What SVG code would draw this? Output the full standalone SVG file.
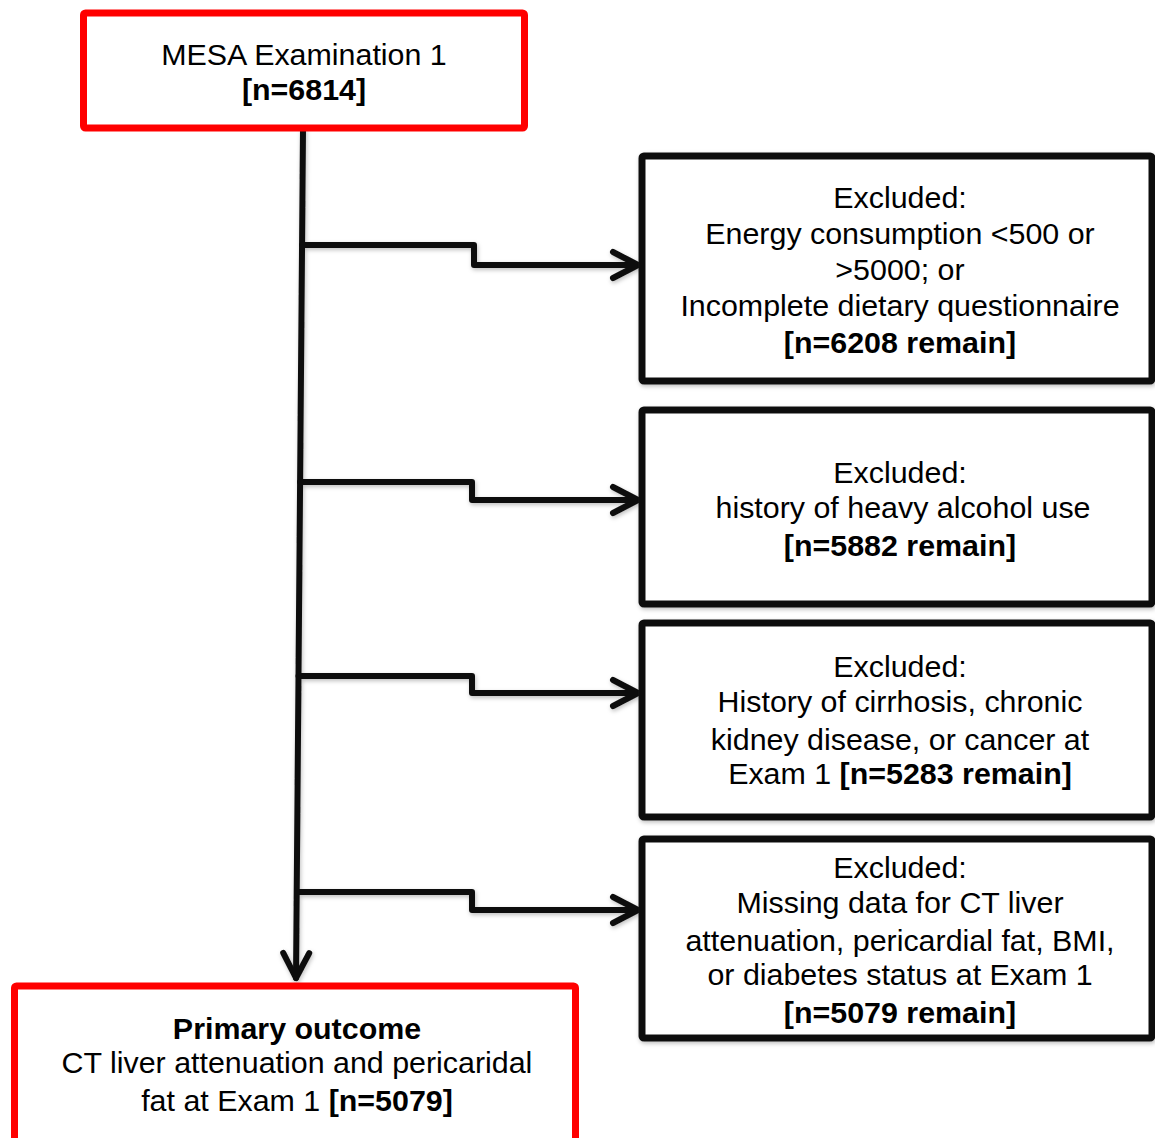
<svg xmlns="http://www.w3.org/2000/svg" width="1155" height="1138" viewBox="0 0 1155 1138">
  <style>
    .red { fill: #fff; stroke: #ff0000; stroke-width: 7; }
    .blk { fill: #fff; stroke: #111; stroke-width: 7; }
    text { font-family: "Liberation Sans", Arial, Helvetica, sans-serif; font-size: 30.4px; fill: #000; text-anchor: middle; }
    .b { font-weight: bold; }
    .conn { fill: none; stroke: #111; stroke-width: 6; stroke-linejoin: round; stroke-linecap: round; }
  </style>
  <defs>
    <filter id="sh" x="-10%" y="-10%" width="120%" height="120%">
      <feDropShadow dx="1" dy="2" stdDeviation="2" flood-color="#000" flood-opacity="0.25"/>
    </filter>
    <marker id="arr" markerUnits="userSpaceOnUse" viewBox="0 0 34 34" markerWidth="34" markerHeight="34" refX="29" refY="17" orient="auto">
      <path d="M4,4 L29,17 L4,30" fill="none" stroke="#111" stroke-width="6" stroke-linecap="round" stroke-linejoin="round"/>
    </marker>
  </defs>

  <g id="connectors" filter="url(#sh)">
    <path class="conn" d="M303,130 L296,978" marker-end="url(#arr)"/>
    <path class="conn" d="M302,245 H474 V265 H638" marker-end="url(#arr)"/>
    <path class="conn" d="M300,482 H472 V500 H638" marker-end="url(#arr)"/>
    <path class="conn" d="M298.5,676 H472 V693 H638" marker-end="url(#arr)"/>
    <path class="conn" d="M297,892 H472 V910 H638" marker-end="url(#arr)"/>
  </g>

  <g id="node-start">
    <rect class="red" x="83.5" y="13" width="441" height="115" rx="2"/>
    <text x="304" y="65">MESA Examination 1</text>
    <text class="b" x="304" y="100">[n=6814]</text>
  </g>

  <g id="node-excl1">
    <rect class="blk" x="642" y="156" width="510" height="225" rx="2" filter="url(#sh)"/>
    <text x="900" y="208">Excluded:</text>
    <text x="900" y="244">Energy consumption &lt;500 or</text>
    <text x="900" y="280">&gt;5000; or</text>
    <text x="900" y="316">Incomplete dietary questionnaire</text>
    <text class="b" x="900" y="353">[n=6208 remain]</text>
  </g>

  <g id="node-excl2">
    <rect class="blk" x="642" y="410" width="510" height="194" rx="2" filter="url(#sh)"/>
    <text x="900" y="483">Excluded:</text>
    <text x="903" y="518">history of heavy alcohol use</text>
    <text class="b" x="900" y="556">[n=5882 remain]</text>
  </g>

  <g id="node-excl3">
    <rect class="blk" x="642" y="623" width="510" height="194" rx="2" filter="url(#sh)"/>
    <text x="900" y="677">Excluded:</text>
    <text x="900" y="712">History of cirrhosis, chronic</text>
    <text x="900" y="750">kidney disease, or cancer at</text>
    <text x="900" y="784">Exam 1 <tspan class="b">[n=5283 remain]</tspan></text>
  </g>

  <g id="node-excl4">
    <rect class="blk" x="642" y="839" width="510" height="199" rx="2" filter="url(#sh)"/>
    <text x="900" y="878">Excluded:</text>
    <text x="900" y="913">Missing data for CT liver</text>
    <text x="900" y="951">attenuation, pericardial fat, BMI,</text>
    <text x="900" y="985">or diabetes status at Exam 1</text>
    <text class="b" x="900" y="1023">[n=5079 remain]</text>
  </g>

  <g id="node-outcome">
    <rect class="red" x="14.5" y="986" width="561" height="160" rx="2"/>
    <text class="b" x="297" y="1039">Primary outcome</text>
    <text x="297" y="1073">CT liver attenuation and pericaridal</text>
    <text x="297" y="1111">fat at Exam 1 <tspan class="b">[n=5079]</tspan></text>
  </g>
</svg>
